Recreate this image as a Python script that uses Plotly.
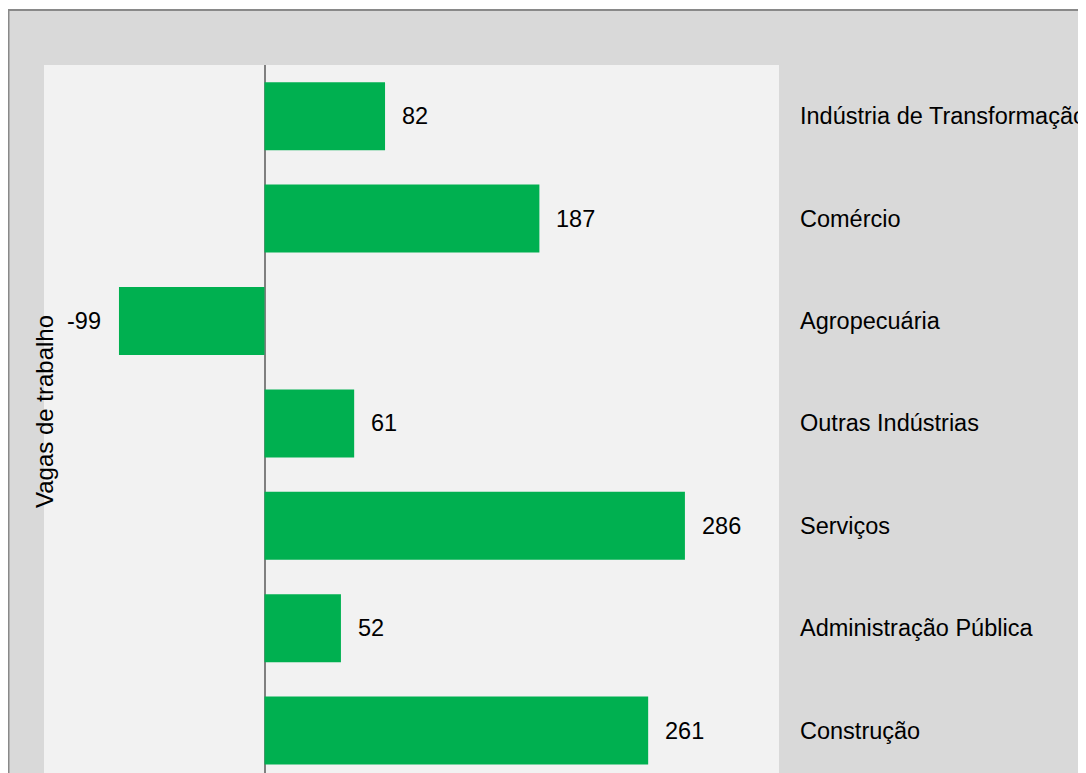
import plotly.graph_objects as go

categories = ["Indústria de Transformação", "Comércio", "Agropecuária",
              "Outras Indústrias", "Serviços", "Administração Pública", "Construção"]
values = [82, 187, -99, 61, 286, 52, 261]
axis_title = "Vagas de trabalho"

FONT = "Liberation Sans, Arial, sans-serif"
FS = 23.5
OX, OY = 8, 8  # page body margin offset
W, H = 1086 - OX, 773 - OY
L, R, T, B = 44 - OX, 307, 65 - OY, 0
pw, ph = W - L - R, H - T - B

def px_x(p):
    return (p - OX - L) / pw

def px_y(p):
    return (H + OY - B - p) / ph

fig = go.Figure()
fig.add_trace(go.Bar(
    x=values, y=categories, orientation="h",
    marker=dict(color="#00b050", line=dict(width=0)),
    hoverinfo="skip",
))

annotations = []
for c, v in zip(categories, values):
    annotations.append(dict(
        x=v, y=c, xref="x", yref="y", text=str(v), showarrow=False,
        xanchor="left" if v >= 0 else "right",
        xshift=15 if v >= 0 else -16,
        font=dict(family=FONT, size=FS, color="#000000"),
    ))
    annotations.append(dict(
        x=px_x(798), y=c, xref="paper", yref="y", text=c, showarrow=False,
        xanchor="left", yanchor="middle",
        font=dict(family=FONT, size=FS, color="#000000"),
    ))
annotations.append(dict(
    x=px_x(45), y=px_y(412), xref="paper", yref="paper", text=axis_title,
    textangle=-90, showarrow=False, xanchor="center", yanchor="middle",
    font=dict(family=FONT, size=24, color="#000000"),
))

shapes = [
    dict(type="rect", xref="paper", yref="paper", layer="below",
         x0=px_x(8.5), x1=1.6, y0=-0.2, y1=px_y(10),
         fillcolor="#d9d9d9", line=dict(color="#898989", width=2)),
    dict(type="rect", xref="paper", yref="paper", layer="below",
         x0=0, x1=1, y0=0, y1=1, fillcolor="#f2f2f2", line=dict(width=0)),
]

fig.update_layout(
    width=W, height=H,
    margin=dict(l=L, r=R, t=T, b=B, pad=0),
    paper_bgcolor="#ffffff", plot_bgcolor="#f2f2f2",
    showlegend=False, bargap=0.336,
    font=dict(family=FONT, size=FS, color="#000000"),
    xaxis=dict(range=[-150, 350], showgrid=False, showticklabels=False,
               ticks="", zeroline=True, zerolinecolor="#808080", zerolinewidth=2,
               showline=False, fixedrange=True),
    yaxis=dict(type="category", categoryorder="array", categoryarray=categories,
               range=[6.414, -0.5], showgrid=False, showticklabels=False,
               ticks="", zeroline=False, showline=False, fixedrange=True),
    annotations=annotations, shapes=shapes,
)

fig.write_html("out.html")
